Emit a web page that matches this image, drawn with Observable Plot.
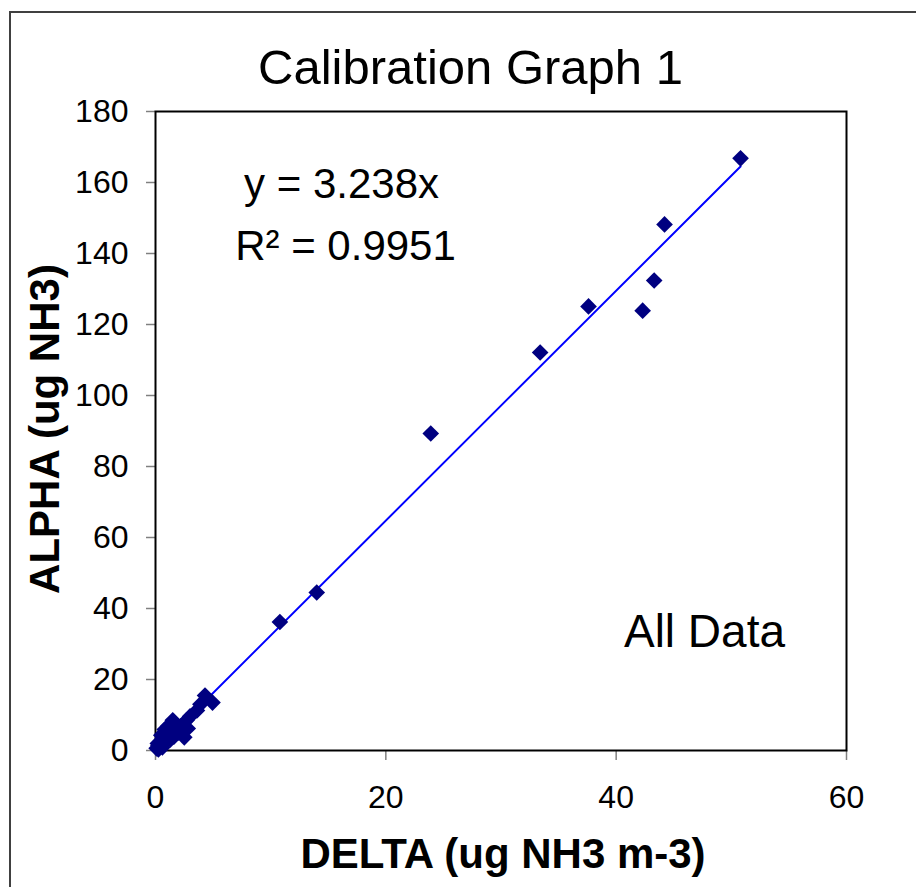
<!DOCTYPE html>
<html>
<head>
<meta charset="utf-8">
<script src="https://cdn.jsdelivr.net/npm/d3@7"></script>
<script src="https://cdn.jsdelivr.net/npm/@observablehq/plot@0.6"></script>
<style>
  html, body { margin: 0; padding: 0; background: #fff; width: 916px; height: 887px; overflow: hidden; }
  #wrap { position: relative; width: 916px; height: 887px; overflow: hidden; font-family: "Liberation Sans", Arial, sans-serif; }
  #border { position: absolute; left: 9px; top: 11px; width: 1200px; height: 1200px; border: 2.5px solid #404040; box-sizing: border-box; }
  #title { position: absolute; left: 0; top: 43px; width: 941px; text-align: center; font-size: 49px; line-height: 49px; color: #000; }
  #chart { position: absolute; left: 0; top: 0; }
</style>
</head>
<body>
<div id="wrap">
  <div id="border"></div>
  <div id="title">Calibration Graph 1</div>
  <div id="chart"></div>
</div>
<script>
// DELTA (x) and ALPHA (y) values
const delta = [
  50.8, 44.2, 43.3, 42.3, 37.6, 33.4, 23.9, 14.0, 10.8,
  4.3, 4.95, 3.9, 3.6, 3.0, 2.7, 2.4, 2.8, 2.5, 2.0,
  1.5, 1.3, 1.0, 0.7, 0.45, 0.25, 0.1, 0.2, 0.5, 0.8,
  1.1, 1.7, 2.2, 0.25, 0.6, 0.9, 1.3, 1.6, 1.8
];
const alpha = [
  166.8, 148.2, 132.4, 123.9, 125.1, 112.1, 89.3, 44.5, 36.2,
  15.5, 13.5, 13.0, 11.3, 9.6, 8.5, 7.0, 6.2, 3.7, 5.1,
  8.5, 6.2, 4.8, 3.7, 2.5, 1.4, 0.6, 2.0, 4.3, 5.9,
  6.8, 5.6, 6.8, 0.3, 0.9, 2.6, 3.1, 3.9, 5.3
];
const xTicks = [0, 20, 40, 60];
const yTicks = [0, 20, 40, 60, 80, 100, 120, 140, 160, 180];
const slope = 3.238;
const r2 = 0.9951;
const xLabel = "DELTA (ug NH3 m-3)";
const yLabel = "ALPHA (ug NH3)";
const eqLine1 = "y = " + slope + "x";
const eqLine2 = "R\u00B2 = " + r2;
const note = "All Data";

const points = delta.map((x, i) => ({x, y: alpha[i]}));
const xMax = d3.max(delta);
const trend = [{x: 0, y: 0}, {x: xMax, y: slope * xMax}];

const font = "Liberation Sans, Arial, sans-serif";

const chart = Plot.plot({
  width: 916,
  height: 887,
  marginLeft: 155,
  marginRight: 70,
  marginTop: 111,
  marginBottom: 137,
  style: {fontFamily: font, background: "transparent", color: "black", overflow: "visible"},
  x: {domain: [0, 60]},
  y: {domain: [0, 180]},
  marks: [
    Plot.axisX({ticks: xTicks, tickSize: 10, tickPadding: 25, fontSize: 32, stroke: "#808080", strokeWidth: 1.5, fill: "black", label: null, tickFormat: d => String(d)}),
    Plot.axisY({ticks: yTicks, tickSize: 9, tickPadding: 18, fontSize: 32, stroke: "#808080", strokeWidth: 1.5, fill: "black", label: null, tickFormat: d => String(d)}),
    Plot.frame({stroke: "black", strokeWidth: 2}),
    Plot.line(trend, {x: "x", y: "y", stroke: "#0000FF", strokeWidth: 2}),
    Plot.dot(points, {x: "x", y: "y", symbol: "diamond2", r: 7.5, fill: "#000080", stroke: "none"}),
    Plot.text([xLabel], {text: d => d, frameAnchor: "bottom", textAnchor: "middle", dx: 2, dy: 117, fontSize: 42, fontWeight: "bold", fill: "black"}),
    Plot.text([yLabel], {text: d => d, frameAnchor: "left", textAnchor: "middle", rotate: -90, dx: -110, dy: -2, fontSize: 42, fontWeight: "bold", fill: "black"}),
    Plot.text([eqLine1], {text: d => d, frameAnchor: "top-left", textAnchor: "middle", dx: 186, dy: 57, fontSize: 42, fill: "black"}),
    Plot.text([eqLine2], {text: d => d, frameAnchor: "top-left", textAnchor: "middle", dx: 190, dy: 119, fontSize: 42, fill: "black"}),
    Plot.text([note], {text: d => d, frameAnchor: "top-left", textAnchor: "middle", dx: 549, dy: 503, fontSize: 46, fill: "black"})
  ]
});
document.getElementById("chart").appendChild(chart);
</script>
</body>
</html>
